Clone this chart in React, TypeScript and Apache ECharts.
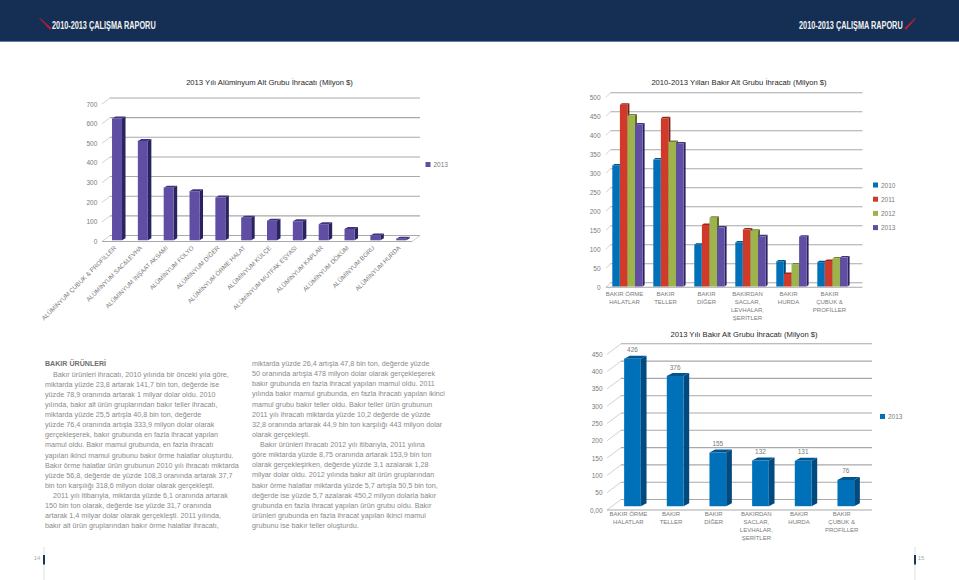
import React, { useEffect, useRef } from "react";
import * as echarts from "echarts";

const aluminumTitle = "2013 Yılı Alüminyum Alt Grubu İhracatı (Milyon $)";
const copperYearsTitle = "2010-2013 Yılları Bakır Alt Grubu İhracatı (Milyon $)";
const copper2013Title = "2013 Yılı Bakır Alt Grubu İhracatı (Milyon $)";
const headerText = "2010-2013 ÇALIŞMA RAPORU";

const aluminumCategories = [
  "ALÜMİNYUM ÇUBUK & PROFİLLER", "ALÜMİNYUM SAC&LEVHA", "ALÜMİNYUM İNŞAAT AKSAMI", "ALÜMİNYUM FOLYO",
  "ALÜMİNYUM DİĞER", "ALÜMİNYUM ÖRME HALAT", "ALÜMİNYUM KÜLÇE", "ALÜMİNYUM MUTFAK EŞYASI",
  "ALÜMİNYUM KAPLAR", "ALÜMİNYUM DÖKÜM", "ALÜMİNYUM BORU", "ALÜMİNYUM HURDA",
];
const aluminum2013 = [620, 505, 268, 250, 218, 115, 100, 97, 82, 58, 25, 8];
const aluminumTicks = [0, 100, 200, 300, 400, 500, 600, 700];

const copperCategories = [
  "BAKIR ÖRME\nHALATLAR", "BAKIR\nTELLER", "BAKIR\nDİĞER",
  "BAKIRDAN\nSACLAR,\nLEVHALAR,\nŞERİTLER", "BAKIR\nHURDA", "BAKIR\nÇUBUK &\nPROFİLLER",
];
const copper2010 = [318.6, 333.9, 110, 116, 66, 64];
const copper2011 = [478, 443, 162, 150, 33, 67];
const copper2012 = [450.2, 380, 181, 147, 58, 74];
const copper2013 = [426, 376, 155, 132, 131, 76];
const copperYears = ["2010", "2011", "2012", "2013"];
const copperTicks = [0, 50, 100, 150, 200, 250, 300, 350, 400, 450, 500];
const copper2013Ticks = [0, 50, 100, 150, 200, 250, 300, 350, 400, 450];

const bodyHeading = "BAKIR ÜRÜNLERİ";
const leftColumn = [
  "    Bakır ürünleri ihracatı, 2010 yılında bir önceki yıla göre,",
  "miktarda yüzde 23,8 artarak 141,7 bin ton, değerde ise",
  "yüzde 78,9 oranında artarak 1 milyar dolar oldu. 2010",
  "yılında, bakır alt ürün gruplarından bakır teller ihracatı,",
  "miktarda yüzde 25,5 artışla 40,8 bin ton, değerde",
  "yüzde 76,4 oranında artışla 333,9 milyon dolar olarak",
  "gerçekleşerek, bakır grubunda en fazla ihracat yapılan",
  "mamul oldu. Bakır mamul grubunda, en fazla ihracatı",
  "yapılan ikinci mamul grubunu bakır örme halatlar oluşturdu.",
  "Bakır örme halatlar ürün grubunun 2010 yılı ihracatı miktarda",
  "yüzde 56,8, değerde de yüzde 108,3 oranında artarak 37,7",
  "bin ton karşılığı 318,6 milyon dolar olarak gerçekleşti.",
  "    2011 yılı itibarıyla, miktarda yüzde 6,1 oranında artarak",
  "150 bin ton olarak, değerde ise yüzde 31,7 oranında",
  "artarak 1,4 milyar dolar olarak gerçekleşti. 2011 yılında,",
  "bakır alt ürün gruplarından bakır örme halatlar ihracatı,",
];
const rightColumn = [
  "miktarda yüzde 26,4 artışla 47,8 bin ton, değerde yüzde",
  "50 oranında artışla 478 milyon dolar olarak gerçekleşerek",
  "bakır grubunda en fazla ihracat yapılan mamul oldu. 2011",
  "yılında bakır mamul grubunda, en fazla ihracatı yapılan ikinci",
  "mamul grubu bakır teller oldu. Bakır teller ürün grubunun",
  "2011 yılı ihracatı miktarda yüzde 10,2 değerde de yüzde",
  "32,8 oranında artarak 44,9 bin ton karşılığı 443 milyon dolar",
  "olarak gerçekleşti.",
  "    Bakır ürünleri ihracatı 2012 yılı itibarıyla, 2011 yılına",
  "göre miktarda yüzde 8,75 oranında artarak 153,9 bin ton",
  "olarak gerçekleşirken, değerde yüzde 3,1 azalarak 1,28",
  "milyar dolar oldu. 2012 yılında bakır alt ürün gruplarından",
  "bakır örme halatlar miktarda yüzde 5,7 artışla 50,5 bin ton,",
  "değerde ise yüzde 5,7 azalarak 450,2 milyon dolarla bakır",
  "grubunda en fazla ihracat yapılan ürün grubu oldu. Bakır",
  "ürünleri grubunda en fazla ihracat yapılan ikinci mamul",
  "grubunu ise bakır teller oluşturdu.",
];

const FONT = '"Liberation Sans", Arial, sans-serif';
const AXIS_TEXT = "#7a7a7a";
const BODY_TEXT = "#8a8a8a";
const BLUE = { fill: "#0071b9", side: "#014a80", top: "#01558f" };
const RED = { fill: "#cf3a2a", side: "#7e1f16", top: "#98291d" };
const GREEN = { fill: "#9db44c", side: "#5e6f2a", top: "#6f8233" };
const PURPLE = { fill: "#5f4ea3", side: "#2a2362", top: "#3f3480" };

type Depth = { dx: number; dy: number; offX: number; offY: number; barW: number; step: number };

function barRenderer(colors: typeof BLUE, d: Depth, index: number, showLabel = false) {
  return (_p: any, api: any) => {
    const cat = api.value(0);
    const v = api.value(1);
    const [cx, yv] = api.coord([cat, v]);
    const [, y0] = api.coord([cat, 0]);
    const l = cx + d.offX + index * d.step;
    const r = l + d.barW;
    const t = yv + d.offY;
    const b = y0 + d.offY;
    const children: any[] = [
      { type: "polygon", shape: { points: [[r, t], [r + d.dx, t + d.dy], [r + d.dx, b + d.dy], [r, b]] }, style: { fill: colors.side } },
      { type: "polygon", shape: { points: [[l, t], [l + d.dx, t + d.dy], [r + d.dx, t + d.dy], [r, t]] }, style: { fill: colors.top } },
      { type: "rect", shape: { x: l, y: t, width: d.barW, height: b - t }, style: { fill: colors.fill } },
    ];
    if (showLabel) {
      children.push({
        type: "text", x: l + d.barW / 2, y: t - 9,
        style: { text: String(v), fontSize: 6.5, fontFamily: FONT, fill: AXIS_TEXT, align: "center", verticalAlign: "middle" },
      });
    }
    return { type: "group", children };
  };
}

function wallRenderer(dx: number, dy: number, leftPad: number, rightPad: number, withRightDiagonal: boolean) {
  return (p: any, api: any) => {
    const cs = p.coordSys;
    const x0 = cs.x + leftPad;
    const x1 = cs.x + cs.width + rightPad;
    const tick = api.value(1);
    const [, y] = api.coord([0, tick]);
    const grid = { stroke: "#a9a9a9", lineWidth: 1.1 };
    const thin = { stroke: "#bdbdbd", lineWidth: 0.7 };
    const children: any[] = [
      { type: "line", shape: { x1: x0, y1: y, x2: x0 + dx, y2: y + dy }, style: thin },
      { type: "line", shape: { x1: x0 + dx, y1: y + dy, x2: x1 + dx, y2: y + dy }, style: grid },
    ];
    if (tick === 0) {
      children.push({ type: "line", shape: { x1: x0, y1: y, x2: withRightDiagonal ? x1 : x1 + dx, y2: y }, style: grid });
      if (withRightDiagonal) {
        children.push({ type: "line", shape: { x1: x1, y1: y, x2: x1 + dx, y2: y + dy }, style: thin });
      }
    }
    return { type: "group", children };
  };
}

function textLines(lines: string[], x: number, y0: number, pitch: number) {
  return lines.map((text, i) => ({
    type: "text", x, y: y0 + i * pitch, silent: true,
    style: { text, fontSize: 7.2, fontFamily: FONT, fill: BODY_TEXT, align: "left", verticalAlign: "middle" },
  }));
}

function titleText(text: string, x: number, y: number) {
  return {
    type: "text", x, y, silent: true,
    style: { text, fontSize: 7.65, fontFamily: FONT, fill: "#1f1f1f", align: "center", verticalAlign: "middle" },
  };
}

function headerLabel(x: number) {
  return {
    type: "text", x, y: 25.5, scaleX: 0.665, silent: true,
    style: { text: headerText, fontSize: 11, fontWeight: "bold", fontFamily: FONT, fill: "#f2f2f2", align: "left", verticalAlign: "middle" },
  };
}

function legendOf(left: number, top: number, names: string[], colors: string[], gap = 7.2) {
  return {
    left, top, orient: "vertical", icon: "rect", itemWidth: 5, itemHeight: 5, itemGap: gap, selectedMode: false,
    padding: 0,
    textStyle: { fontSize: 6.5, color: AXIS_TEXT, fontFamily: FONT, padding: [0, 0, 0, -2] },
    data: names.map((name, i) => ({ name, itemStyle: { color: colors[i] } })),
  };
}

function xAxisOf(gridIndex: number, data: string[], extra: any) {
  return {
    type: "category", gridIndex, data,
    axisLine: { show: false }, axisTick: { show: false }, splitLine: { show: false },
    axisLabel: { interval: 0, fontSize: 6, lineHeight: 8, color: AXIS_TEXT, fontFamily: FONT, hideOverlap: false, ...extra },
  };
}

function yAxisOf(gridIndex: number, max: number, interval: number, margin: number, formatter?: any) {
  return {
    type: "value", gridIndex, min: 0, max, interval,
    axisLine: { show: false }, axisTick: { show: false }, splitLine: { show: false },
    axisLabel: { fontSize: 6.5, color: AXIS_TEXT, fontFamily: FONT, margin, formatter },
  };
}

export default function App() {
  const ref = useRef<HTMLDivElement>(null);
  useEffect(() => {
    document.body.style.margin = "0";
    const chart = echarts.init(ref.current!, undefined, { renderer: "svg" });
    const d1: Depth = { dx: 3.5, dy: -2, offX: -2.9, offY: -1.2, barW: 10, step: 0 };
    const d2: Depth = { dx: 2, dy: -1.5, offX: -12.2, offY: -0.8, barW: 7.5, step: 7.6 };
    const d3: Depth = { dx: 5.7, dy: -3, offX: -4.2, offY: -3.8, barW: 16.7, step: 0 };
    const copperSets = [copper2010, copper2011, copper2012, copper2013];
    const copperColors = [BLUE, RED, GREEN, PURPLE];

    const custom = (name: string, idx: number, data: number[][], renderItem: any, z: number, color?: string) => ({
      type: "custom", name, xAxisIndex: idx, yAxisIndex: idx, data, renderItem, z, silent: true,
      encode: { x: 0, y: 1 }, itemStyle: color ? { color } : undefined,
    });

    chart.setOption({
      animation: false,
      backgroundColor: "#ffffff",
      tooltip: { show: false },
      grid: [
        { left: 102, top: 104, width: 310, height: 137.5 },
        { left: 604, top: 97.3, width: 246, height: 190 },
        { left: 607, top: 354.3, width: 256, height: 155.7 },
      ],
      xAxis: [
        xAxisOf(0, aluminumCategories, { rotate: 45, margin: 5, fontSize: 6.2 }),
        xAxisOf(1, copperCategories, { margin: 3 }),
        xAxisOf(2, copperCategories, { margin: 0 }),
      ],
      yAxis: [
        yAxisOf(0, 700, 100, 4.7),
        yAxisOf(1, 500, 50, 3.4),
        yAxisOf(2, 450, 50, 4.4, (v: number) => (v === 0 ? "0,00" : String(v))),
      ],
      legend: [
        legendOf(425.5, 161, ["2013"], [PURPLE.fill]),
        legendOf(873, 181.5, copperYears, copperColors.map((c) => c.fill)),
        legendOf(880, 413, ["2013"], [BLUE.fill]),
      ],
      series: [
        custom("walls1", 0, aluminumTicks.map((t) => [0, t]), wallRenderer(8, -6, 0, 0, true), 1),
        custom("walls2", 1, copperTicks.map((t) => [0, t]), wallRenderer(4.5, -4.5, 2, 8, false), 1),
        custom("walls3", 2, copper2013Ticks.map((t) => [0, t]), wallRenderer(14, -10.5, 0, -5, false), 1),
        custom("2013", 0, aluminum2013.map((v, i) => [i, v]), barRenderer(PURPLE, d1, 0), 3, PURPLE.fill),
        ...copperSets.map((vals, s) =>
          custom(copperYears[s], 1, vals.map((v, i) => [i, v]), barRenderer(copperColors[s], d2, s), 3 + s, copperColors[s].fill)
        ),
        custom("2013", 2, copper2013.map((v, i) => [i, v]), barRenderer(BLUE, d3, 0, true), 3, BLUE.fill),
      ],
      graphic: {
        elements: [
          { type: "rect", shape: { x: 0, y: 0, width: 959, height: 41 }, style: { fill: "#152f54" }, silent: true },
          { type: "rect", shape: { x: 0, y: 41, width: 959, height: 1 }, style: { fill: "#5f7ea6" }, silent: true },
          { type: "polygon", shape: { points: [[39, 18], [40, 18], [51.5, 28], [50, 30]] }, style: { fill: "#b01f35" }, silent: true },
          { type: "polygon", shape: { points: [[904.5, 28], [906, 30], [916, 18.5], [915, 18]] }, style: { fill: "#b01f35" }, silent: true },
          headerLabel(52),
          headerLabel(799),
          titleText(aluminumTitle, 269.5, 82.5),
          titleText(copperYearsTitle, 739, 82.5),
          titleText(copper2013Title, 744, 334.5),
          {
            type: "text", x: 45, y: 364, silent: true,
            style: { text: bodyHeading, fontSize: 7.1, fontWeight: "bold", fontFamily: FONT, fill: "#6f6f6f", align: "left", verticalAlign: "middle" },
          },
          ...textLines(leftColumn, 45, 374, 10.13),
          ...textLines(rightColumn, 252, 363.5, 10.13),
          { type: "line", shape: { x1: 44, y1: 547, x2: 44, y2: 580 }, style: { stroke: "#c9d3de", lineWidth: 0.7 }, silent: true },
          { type: "rect", shape: { x: 43, y: 555, width: 2, height: 9.5 }, style: { fill: "#1b3354" }, silent: true },
          { type: "text", x: 37, y: 558, silent: true, style: { text: "14", fontSize: 6, fontFamily: FONT, fill: "#aaaaaa", align: "center", verticalAlign: "middle" } },
          { type: "line", shape: { x1: 915, y1: 547, x2: 915, y2: 580 }, style: { stroke: "#c9d3de", lineWidth: 0.7 }, silent: true },
          { type: "rect", shape: { x: 914, y: 555, width: 2, height: 9.5 }, style: { fill: "#1b3354" }, silent: true },
          { type: "text", x: 921, y: 558, silent: true, style: { text: "15", fontSize: 6, fontFamily: FONT, fill: "#aaaaaa", align: "center", verticalAlign: "middle" } },
        ],
      },
    });
    return () => chart.dispose();
  }, []);
  return <div ref={ref} style={{ position: "fixed", left: 0, top: 0, width: 959, height: 580, background: "#fff" }} />;
}
